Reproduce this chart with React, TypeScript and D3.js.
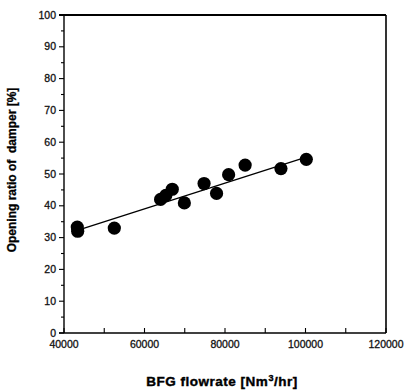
import * as d3 from "d3";

// ── Data ──────────────────────────────────────────────────
const flowrate = [43300, 43400, 52500, 64000, 65300, 66900, 69900, 74800, 77900, 80900, 85000, 93900, 100200];
const opening  = [33.3, 32.0, 33.0, 42.0, 43.3, 45.2, 40.9, 47.0, 43.9, 49.8, 52.8, 51.7, 54.6];
const fitX = [43300, 100200];
const fitY = [32.3, 55.3];
const xTicks = [40000, 60000, 80000, 100000, 120000];
const yTicks = [0, 10, 20, 30, 40, 50, 60, 70, 80, 90, 100];

// ── Layout ────────────────────────────────────────────────
const W = 404, H = 392;
const L = 64, R = 386, T = 15, B = 333;
const FONT = "'Liberation Sans', Arial, Helvetica, sans-serif";

const x = d3.scaleLinear().domain([40000, 120000]).range([L, R]);
const y = d3.scaleLinear().domain([0, 100]).range([B, T]);

const xMinor = d3.range(40000, 120001, 10000);
const yMinor = d3.range(0, 101, 5);

const points = flowrate.map((f, i) => ({ f, o: opening[i] }));
const fitLine = d3.line<number>()
  .x((_, i) => x(fitX[i]))
  .y(d => y(d));

export default function App() {
  return (
    <svg width={W} height={H} viewBox={`0 0 ${W} ${H}`}
      style={{ position: "absolute", left: 0, top: 0, background: "#fff", fontFamily: FONT }}>

      {/* frame */}
      <line x1={L - 5} x2={R} y1={T} y2={T} stroke="#000" strokeWidth={1.8} />
      <line x1={R} x2={R} y1={T} y2={B} stroke="#000" strokeWidth={1.6} />
      <line x1={L} x2={L} y1={T} y2={B} stroke="#000" strokeWidth={1.4} />
      <line x1={L - 5} x2={R} y1={B} y2={B} stroke="#000" strokeWidth={1.4} />

      {/* y ticks: outward */}
      {yMinor.map(v => (
        <line key={"ym" + v} x1={L - (v % 10 === 0 ? 5 : 3)} x2={L} y1={y(v)} y2={y(v)}
          stroke="#000" strokeWidth={1.1} />
      ))}
      {yTicks.map(v => (
        <text key={"yl" + v} x={L - 8} y={y(v)} dy="0.35em" textAnchor="end"
          fontSize={10.5} fill="#111" stroke="#111" strokeWidth={0.3}>{v}</text>
      ))}

      {/* x ticks: inward */}
      {xMinor.map(v => (
        <line key={"xm" + v} x1={x(v)} x2={x(v)} y1={B} y2={B - 5}
          stroke="#000" strokeWidth={1.1} />
      ))}
      {xTicks.map(v => (
        <text key={"xl" + v} x={x(v)} y={B + 15} textAnchor="middle"
          fontSize={10.5} fill="#111" stroke="#111" strokeWidth={0.3}>{v}</text>
      ))}

      {/* fit line */}
      <path d={fitLine(fitY) ?? ""} fill="none" stroke="#000" strokeWidth={1.3} />

      {/* points */}
      {points.map((p, i) => (
        <circle key={i} cx={x(p.f)} cy={y(p.o)} r={6.6} fill="#000" />
      ))}

      {/* axis titles */}
      <text x={222} y={386} textAnchor="middle" fontSize={13.5} fontWeight="bold"
        letterSpacing={0.5} fill="#000" stroke="#000" strokeWidth={0.4}>
        BFG flowrate [Nm<tspan dy={-5} fontSize={9}>3</tspan><tspan dy={5}>/hr]</tspan>
      </text>
      <text transform={`translate(16,170) rotate(-90)`} textAnchor="middle"
        fontSize={12} fontWeight="bold" fill="#000" stroke="#000" strokeWidth={0.3}
        style={{ whiteSpace: "pre" }}>
        {"Opening ratio of  damper [%]"}
      </text>
    </svg>
  );
}
